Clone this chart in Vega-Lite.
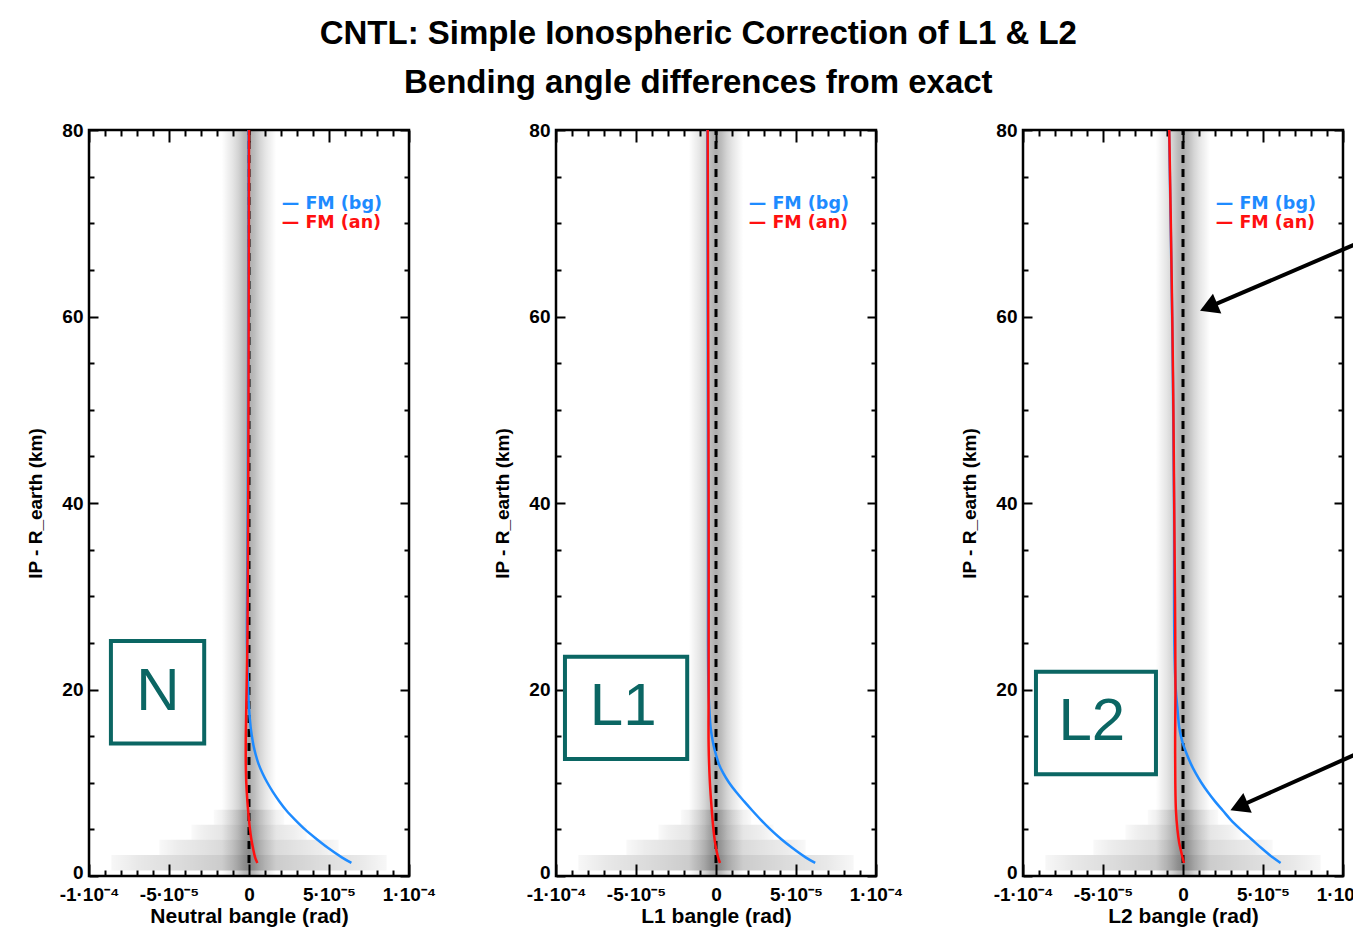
{
  "$schema": "https://vega.github.io/schema/vega-lite/v6.json",
  "background": "white",
  "padding": {"left": 25, "top": 17, "right": 0, "bottom": 0},
  "title": {"text": ["CNTL: Simple Ionospheric Correction of L1 & L2", "Bending angle differences from exact"], "fontSize": 33, "font": "Liberation Sans", "fontWeight": "bold", "lineHeight": 49, "anchor": "middle", "offset": 20, "color": "black"},
  "spacing": 147,
  "bounds": "flush",
  "config": {
    "font": "Liberation Sans",
    "view": {"stroke": "black", "strokeWidth": 2.5},
    "axis": {"labelFont": "Liberation Sans", "titleFont": "Liberation Sans", "labelFontWeight": "bold", "titleFontWeight": "bold", "labelFontSize": 19, "titleFontSize": 21, "labelColor": "black", "titleColor": "black", "tickColor": "black", "tickWidth": 2, "domain": false, "grid": false, "labelFlush": false, "labelOverlap": false},
    "line": {"interpolate": "catmull-rom"}
  },
  "data": {"values": [
    {"p":"N","k":"band","x":-1.7e-5,"x2":1.7e-5,"y":0,"y2":80},
    {"p":"N","k":"lband","x":-8.6e-5,"x2":8.6e-5,"y":0.6,"y2":2.25},
    {"p":"N","k":"lband","x":-5.6e-5,"x2":5.6e-5,"y":2.25,"y2":3.9},
    {"p":"N","k":"lband","x":-3.6e-5,"x2":3.6e-5,"y":3.9,"y2":5.5},
    {"p":"N","k":"lband","x":-2.2e-5,"x2":2.2e-5,"y":5.5,"y2":7.1},
    {"p":"L1","k":"band","x":-1.7e-5,"x2":1.7e-5,"y":0,"y2":80},
    {"p":"L1","k":"lband","x":-8.6e-5,"x2":8.6e-5,"y":0.6,"y2":2.25},
    {"p":"L1","k":"lband","x":-5.6e-5,"x2":5.6e-5,"y":2.25,"y2":3.9},
    {"p":"L1","k":"lband","x":-3.6e-5,"x2":3.6e-5,"y":3.9,"y2":5.5},
    {"p":"L1","k":"lband","x":-2.2e-5,"x2":2.2e-5,"y":5.5,"y2":7.1},
    {"p":"L2","k":"band","x":-1.7e-5,"x2":1.7e-5,"y":0,"y2":80},
    {"p":"L2","k":"lband","x":-8.6e-5,"x2":8.6e-5,"y":0.6,"y2":2.25},
    {"p":"L2","k":"lband","x":-5.6e-5,"x2":5.6e-5,"y":2.25,"y2":3.9},
    {"p":"L2","k":"lband","x":-3.6e-5,"x2":3.6e-5,"y":3.9,"y2":5.5},
    {"p":"L2","k":"lband","x":-2.2e-5,"x2":2.2e-5,"y":5.5,"y2":7.1},

    {"p":"N","k":"bg","y":1.4,"x":6.4e-5},{"p":"N","k":"bg","y":2,"x":5.8e-5},{"p":"N","k":"bg","y":3,"x":4.95e-5},{"p":"N","k":"bg","y":4,"x":4.2e-5},{"p":"N","k":"bg","y":5,"x":3.5e-5},{"p":"N","k":"bg","y":6,"x":2.9e-5},{"p":"N","k":"bg","y":7,"x":2.35e-5},{"p":"N","k":"bg","y":8,"x":1.9e-5},{"p":"N","k":"bg","y":9,"x":1.5e-5},{"p":"N","k":"bg","y":10,"x":1.15e-5},{"p":"N","k":"bg","y":11,"x":8.5e-6},{"p":"N","k":"bg","y":12,"x":6e-6},{"p":"N","k":"bg","y":13,"x":4.2e-6},{"p":"N","k":"bg","y":14,"x":2.8e-6},{"p":"N","k":"bg","y":15,"x":1.8e-6},{"p":"N","k":"bg","y":16,"x":1e-6},{"p":"N","k":"bg","y":18,"x":0},{"p":"N","k":"bg","y":20,"x":-5e-7},{"p":"N","k":"bg","y":25,"x":-1.3e-6},{"p":"N","k":"bg","y":30,"x":-1.2e-6},{"p":"N","k":"bg","y":40,"x":-8e-7},{"p":"N","k":"bg","y":60,"x":-5e-7},{"p":"N","k":"bg","y":80,"x":-3e-7},
    {"p":"N","k":"an","y":1.4,"x":5.2e-6},{"p":"N","k":"an","y":2,"x":3.8e-6},{"p":"N","k":"an","y":3,"x":2.5e-6},{"p":"N","k":"an","y":4,"x":1.4e-6},{"p":"N","k":"an","y":5,"x":6e-7},{"p":"N","k":"an","y":6,"x":0},{"p":"N","k":"an","y":8,"x":-1e-6},{"p":"N","k":"an","y":10,"x":-1.7e-6},{"p":"N","k":"an","y":12,"x":-2e-6},{"p":"N","k":"an","y":15,"x":-2e-6},{"p":"N","k":"an","y":20,"x":-1.5e-6},{"p":"N","k":"an","y":25,"x":-1e-6},{"p":"N","k":"an","y":30,"x":-8e-7},{"p":"N","k":"an","y":40,"x":-5e-7},{"p":"N","k":"an","y":60,"x":-2e-7},{"p":"N","k":"an","y":80,"x":0},

    {"p":"L1","k":"bg","y":1.4,"x":6.2e-5},{"p":"L1","k":"bg","y":2,"x":5.6e-5},{"p":"L1","k":"bg","y":3,"x":4.78e-5},{"p":"L1","k":"bg","y":4,"x":4.05e-5},{"p":"L1","k":"bg","y":5,"x":3.4e-5},{"p":"L1","k":"bg","y":6,"x":2.82e-5},{"p":"L1","k":"bg","y":7,"x":2.28e-5},{"p":"L1","k":"bg","y":8,"x":1.76e-5},{"p":"L1","k":"bg","y":9,"x":1.26e-5},{"p":"L1","k":"bg","y":10,"x":8.2e-6},{"p":"L1","k":"bg","y":11,"x":4.6e-6},{"p":"L1","k":"bg","y":12,"x":1.8e-6},{"p":"L1","k":"bg","y":13,"x":0},{"p":"L1","k":"bg","y":14,"x":-1.5e-6},{"p":"L1","k":"bg","y":15,"x":-2.6e-6},{"p":"L1","k":"bg","y":16,"x":-3.4e-6},{"p":"L1","k":"bg","y":18,"x":-4.2e-6},{"p":"L1","k":"bg","y":20,"x":-4.7e-6},{"p":"L1","k":"bg","y":25,"x":-5e-6},{"p":"L1","k":"bg","y":40,"x":-5e-6},{"p":"L1","k":"bg","y":60,"x":-5.2e-6},{"p":"L1","k":"bg","y":80,"x":-5.4e-6},
    {"p":"L1","k":"an","y":1.4,"x":2.5e-6},{"p":"L1","k":"an","y":2,"x":1.3e-6},{"p":"L1","k":"an","y":3,"x":0},{"p":"L1","k":"an","y":3.6,"x":-6e-7},{"p":"L1","k":"an","y":5,"x":-1.6e-6},{"p":"L1","k":"an","y":7,"x":-2.6e-6},{"p":"L1","k":"an","y":10,"x":-3.8e-6},{"p":"L1","k":"an","y":14,"x":-4.6e-6},{"p":"L1","k":"an","y":20,"x":-4.6e-6},{"p":"L1","k":"an","y":40,"x":-4.6e-6},{"p":"L1","k":"an","y":60,"x":-4.9e-6},{"p":"L1","k":"an","y":80,"x":-5.2e-6},

    {"p":"L2","k":"bg","y":1.4,"x":6.1e-5},{"p":"L2","k":"bg","y":2,"x":5.6e-5},{"p":"L2","k":"bg","y":3,"x":4.9e-5},{"p":"L2","k":"bg","y":4,"x":4.25e-5},{"p":"L2","k":"bg","y":5,"x":3.6e-5},{"p":"L2","k":"bg","y":6,"x":3.0e-5},{"p":"L2","k":"bg","y":7,"x":2.5e-5},{"p":"L2","k":"bg","y":8,"x":2.0e-5},{"p":"L2","k":"bg","y":9,"x":1.55e-5},{"p":"L2","k":"bg","y":10,"x":1.15e-5},{"p":"L2","k":"bg","y":11,"x":8e-6},{"p":"L2","k":"bg","y":12,"x":5e-6},{"p":"L2","k":"bg","y":13,"x":2.5e-6},{"p":"L2","k":"bg","y":14,"x":3e-7},{"p":"L2","k":"bg","y":15,"x":-1.3e-6},{"p":"L2","k":"bg","y":16,"x":-2.4e-6},{"p":"L2","k":"bg","y":18,"x":-3.5e-6},{"p":"L2","k":"bg","y":20,"x":-4.5e-6},{"p":"L2","k":"bg","y":25,"x":-5.4e-6},{"p":"L2","k":"bg","y":40,"x":-5.6e-6},{"p":"L2","k":"bg","y":60,"x":-6.8e-6},{"p":"L2","k":"bg","y":80,"x":-8.7e-6},
    {"p":"L2","k":"an","y":1.4,"x":6e-7},{"p":"L2","k":"an","y":2,"x":-3e-7},{"p":"L2","k":"an","y":2.5,"x":-1e-6},{"p":"L2","k":"an","y":3.6,"x":-2.4e-6},{"p":"L2","k":"an","y":5,"x":-3.5e-6},{"p":"L2","k":"an","y":7,"x":-4.4e-6},{"p":"L2","k":"an","y":10,"x":-4.8e-6},{"p":"L2","k":"an","y":15,"x":-4.9e-6},{"p":"L2","k":"an","y":20,"x":-4.7e-6},{"p":"L2","k":"an","y":30,"x":-5e-6},{"p":"L2","k":"an","y":40,"x":-5.5e-6},{"p":"L2","k":"an","y":50,"x":-6e-6},{"p":"L2","k":"an","y":60,"x":-6.7e-6},{"p":"L2","k":"an","y":70,"x":-7.6e-6},{"p":"L2","k":"an","y":80,"x":-8.6e-6},

    {"p":"N","k":"leg","s":"bg","x":2.05e-5,"y":72.1,"t":"— FM (bg)"},
    {"p":"N","k":"leg","s":"an","x":2.05e-5,"y":70.05,"t":"— FM (an)"},
    {"p":"L1","k":"leg","s":"bg","x":2.05e-5,"y":72.1,"t":"— FM (bg)"},
    {"p":"L1","k":"leg","s":"an","x":2.05e-5,"y":70.05,"t":"— FM (an)"},
    {"p":"L2","k":"leg","s":"bg","x":2.05e-5,"y":72.1,"t":"— FM (bg)"},
    {"p":"L2","k":"leg","s":"an","x":2.05e-5,"y":70.05,"t":"— FM (an)"},

    {"p":"N","k":"box","x":-8.63e-5,"x2":-2.8e-5,"y":14.2,"y2":25.2},
    {"p":"N","k":"lab","x":-5.7e-5,"y":19.7,"t":"N"},
    {"p":"L1","k":"box","x":-9.44e-5,"x2":-1.8e-5,"y":12.55,"y2":23.5},
    {"p":"L1","k":"lab","x":-5.8e-5,"y":18.1,"t":"L1"},
    {"p":"L2","k":"box","x":-9.19e-5,"x2":-1.69e-5,"y":10.9,"y2":21.9},
    {"p":"L2","k":"lab","x":-5.7e-5,"y":16.5,"t":"L2"},

    {"p":"L2","k":"arrow","x":1.07e-4,"y":67.7,"x2":1.6e-5,"y2":61.0},
    {"p":"L2","k":"arrow","x":1.07e-4,"y":12.98,"x2":3.5e-5,"y2":7.45},
    {"p":"L2","k":"head","x":1.6e-5,"y":61.0},
    {"p":"L2","k":"head","x":3.5e-5,"y":7.45}
  ]},
  "hconcat": [
    {
      "width": 320, "height": 746,
      "transform": [{"filter": "datum.p == 'N'"}],
      "resolve": {"axis": {"x": "independent", "y": "independent"}},
      "layer": [
        {"transform": [{"filter": "datum.k == 'band'"}],
         "mark": {"type": "rect", "fill": {"gradient": "linear", "x1": 0, "y1": 0, "x2": 1, "y2": 0, "stops": [{"offset": 0, "color": "rgba(0,0,0,0)"}, {"offset": 0.1, "color": "rgba(0,0,0,0.05)"}, {"offset": 0.2, "color": "rgba(0,0,0,0.1)"}, {"offset": 0.3, "color": "rgba(0,0,0,0.17)"}, {"offset": 0.4, "color": "rgba(0,0,0,0.26)"}, {"offset": 0.5, "color": "rgba(0,0,0,0.32)"}, {"offset": 0.6, "color": "rgba(0,0,0,0.26)"}, {"offset": 0.7, "color": "rgba(0,0,0,0.17)"}, {"offset": 0.8, "color": "rgba(0,0,0,0.1)"}, {"offset": 0.9, "color": "rgba(0,0,0,0.05)"}, {"offset": 1, "color": "rgba(0,0,0,0)"}]}},
         "encoding": {
           "x": {"field": "x", "type": "quantitative", "scale": {"domain": [-1e-4, 1e-4], "nice": false, "zero": false},
                 "axis": {"orient": "bottom", "title": "Neutral bangle (rad)", "values": [-1e-4,-9e-5,-8e-5,-7e-5,-6e-5,-5e-5,-4e-5,-3e-5,-2e-5,-1e-5,0,1e-5,2e-5,3e-5,4e-5,5e-5,6e-5,7e-5,8e-5,9e-5,1e-4],
                          "labelExpr": "abs(round(datum.value*1e5))%5 != 0 ? '' : datum.value < -7e-5 ? '-1·10⁻⁴' : datum.value < -2e-5 ? '-5·10⁻⁵' : datum.value < 2e-5 ? '0' : datum.value < 7e-5 ? '5·10⁻⁵' : '1·10⁻⁴'",
                          "tickSize": {"condition": {"test": "abs(round(datum.value*1e5))%5 == 0", "value": -12}, "value": -6},
                          "labelPadding": 21, "titlePadding": -5}},
           "x2": {"field": "x2"},
           "y": {"field": "y", "type": "quantitative", "scale": {"domain": [0, 80], "nice": false, "zero": false},
                 "axis": {"orient": "left", "title": "IP - R_earth (km)", "titleFontSize": 19, "labelFontSize": 19, "values": [0,5,10,15,20,25,30,35,40,45,50,55,60,65,70,75,80],
                          "labelExpr": "datum.value % 20 == 0 ? datum.label : ''",
                          "labelOffset": {"condition": {"test": "datum.value == 0", "value": -4}, "value": 0},
                          "tickSize": {"condition": {"test": "datum.value % 20 == 0", "value": -9}, "value": -5},
                          "labelPadding": 15, "titlePadding": 16}},
           "y2": {"field": "y2"}
         }},
        {"transform": [{"filter": "datum.k == 'lband'"}],
         "mark": {"type": "rect", "fill": {"gradient": "linear", "x1": 0, "y1": 0, "x2": 1, "y2": 0, "stops": [{"offset": 0, "color": "rgba(0,0,0,0.03)"}, {"offset": 0.1, "color": "rgba(0,0,0,0.09)"}, {"offset": 0.25, "color": "rgba(0,0,0,0.14)"}, {"offset": 0.4, "color": "rgba(0,0,0,0.2)"}, {"offset": 0.5, "color": "rgba(0,0,0,0.25)"}, {"offset": 0.6, "color": "rgba(0,0,0,0.2)"}, {"offset": 0.75, "color": "rgba(0,0,0,0.14)"}, {"offset": 0.9, "color": "rgba(0,0,0,0.09)"}, {"offset": 1, "color": "rgba(0,0,0,0.03)"}]}},
         "encoding": {
           "x": {"field": "x", "type": "quantitative", "scale": {"domain": [-1e-4, 1e-4], "nice": false, "zero": false}, "axis": null},
           "x2": {"field": "x2"},
           "y": {"field": "y", "type": "quantitative", "scale": {"domain": [0, 80], "nice": false, "zero": false}, "axis": null},
           "y2": {"field": "y2"},
           "opacity": {"field": "x2", "type": "quantitative", "scale": {"domain": [2.2e-5, 8.6e-5], "range": [0.6, 1]}, "legend": null}
         }},
        {"transform": [{"filter": "datum.k == 'band'"}],
         "mark": {"type": "rule", "strokeDash": [8, 6], "strokeWidth": 3, "color": "black"},
         "encoding": {
           "x": {"datum": 0, "type": "quantitative", "scale": {"domain": [-1e-4, 1e-4], "nice": false, "zero": false},
                 "axis": {"orient": "top", "title": null, "labels": false, "values": [-1e-4,-9e-5,-8e-5,-7e-5,-6e-5,-5e-5,-4e-5,-3e-5,-2e-5,-1e-5,0,1e-5,2e-5,3e-5,4e-5,5e-5,6e-5,7e-5,8e-5,9e-5,1e-4],
                          "tickSize": {"condition": {"test": "abs(round(datum.value*1e5))%5 == 0", "value": -12}, "value": -6}}},
           "y": {"datum": 1.4, "type": "quantitative", "scale": {"domain": [0, 80], "nice": false, "zero": false},
                 "axis": {"orient": "right", "title": null, "labels": false, "values": [0,5,10,15,20,25,30,35,40,45,50,55,60,65,70,75,80],
                          "tickSize": {"condition": {"test": "datum.value % 20 == 0", "value": -9}, "value": -5}}},
           "y2": {"datum": 80}
         }},
        {"transform": [{"filter": "datum.k == 'bg'"}],
         "mark": {"type": "line", "color": "#1e8bff", "strokeWidth": 2.5},
         "encoding": {"x": {"field": "x", "type": "quantitative", "scale": {"domain": [-1e-4, 1e-4], "nice": false, "zero": false}, "axis": null},
                      "y": {"field": "y", "type": "quantitative", "scale": {"domain": [0, 80], "nice": false, "zero": false}, "axis": null},
                      "order": {"field": "y", "type": "quantitative"}}},
        {"transform": [{"filter": "datum.k == 'an'"}],
         "mark": {"type": "line", "color": "#ff1010", "strokeWidth": 2.5},
         "encoding": {"x": {"field": "x", "type": "quantitative", "scale": {"domain": [-1e-4, 1e-4], "nice": false, "zero": false}, "axis": null},
                      "y": {"field": "y", "type": "quantitative", "scale": {"domain": [0, 80], "nice": false, "zero": false}, "axis": null},
                      "order": {"field": "y", "type": "quantitative"}}},
        {"transform": [{"filter": "datum.k == 'leg'"}],
         "mark": {"type": "text", "align": "left", "baseline": "middle", "fontSize": 17.5, "fontWeight": "bold", "font": "DejaVu Sans"},
         "encoding": {"x": {"field": "x", "type": "quantitative", "scale": {"domain": [-1e-4, 1e-4], "nice": false, "zero": false}, "axis": null},
                      "y": {"field": "y", "type": "quantitative", "scale": {"domain": [0, 80], "nice": false, "zero": false}, "axis": null},
                      "text": {"field": "t"},
                      "color": {"field": "s", "type": "nominal", "scale": {"domain": ["bg", "an"], "range": ["#1e8bff", "#ff1010"]}, "legend": null}}},
        {"transform": [{"filter": "datum.k == 'box'"}],
         "mark": {"type": "rect", "fillOpacity": 0, "fill": "white", "stroke": "#0b6663", "strokeWidth": 4},
         "encoding": {"x": {"field": "x", "type": "quantitative", "scale": {"domain": [-1e-4, 1e-4], "nice": false, "zero": false}, "axis": null},
                      "x2": {"field": "x2"},
                      "y": {"field": "y", "type": "quantitative", "scale": {"domain": [0, 80], "nice": false, "zero": false}, "axis": null},
                      "y2": {"field": "y2"}}},
        {"transform": [{"filter": "datum.k == 'lab'"}],
         "mark": {"type": "text", "align": "center", "baseline": "middle", "fontSize": 60, "font": "Liberation Sans", "color": "#0b6663"},
         "encoding": {"x": {"field": "x", "type": "quantitative", "scale": {"domain": [-1e-4, 1e-4], "nice": false, "zero": false}, "axis": null},
                      "y": {"field": "y", "type": "quantitative", "scale": {"domain": [0, 80], "nice": false, "zero": false}, "axis": null},
                      "text": {"field": "t"}}}
      ]
    },
    {
      "width": 320, "height": 746,
      "transform": [{"filter": "datum.p == 'L1'"}],
      "resolve": {"axis": {"x": "independent", "y": "independent"}},
      "layer": [
        {"transform": [{"filter": "datum.k == 'band'"}],
         "mark": {"type": "rect", "fill": {"gradient": "linear", "x1": 0, "y1": 0, "x2": 1, "y2": 0, "stops": [{"offset": 0, "color": "rgba(0,0,0,0)"}, {"offset": 0.1, "color": "rgba(0,0,0,0.05)"}, {"offset": 0.2, "color": "rgba(0,0,0,0.1)"}, {"offset": 0.3, "color": "rgba(0,0,0,0.17)"}, {"offset": 0.4, "color": "rgba(0,0,0,0.26)"}, {"offset": 0.5, "color": "rgba(0,0,0,0.32)"}, {"offset": 0.6, "color": "rgba(0,0,0,0.26)"}, {"offset": 0.7, "color": "rgba(0,0,0,0.17)"}, {"offset": 0.8, "color": "rgba(0,0,0,0.1)"}, {"offset": 0.9, "color": "rgba(0,0,0,0.05)"}, {"offset": 1, "color": "rgba(0,0,0,0)"}]}},
         "encoding": {
           "x": {"field": "x", "type": "quantitative", "scale": {"domain": [-1e-4, 1e-4], "nice": false, "zero": false},
                 "axis": {"orient": "bottom", "title": "L1 bangle (rad)", "values": [-1e-4,-9e-5,-8e-5,-7e-5,-6e-5,-5e-5,-4e-5,-3e-5,-2e-5,-1e-5,0,1e-5,2e-5,3e-5,4e-5,5e-5,6e-5,7e-5,8e-5,9e-5,1e-4],
                          "labelExpr": "abs(round(datum.value*1e5))%5 != 0 ? '' : datum.value < -7e-5 ? '-1·10⁻⁴' : datum.value < -2e-5 ? '-5·10⁻⁵' : datum.value < 2e-5 ? '0' : datum.value < 7e-5 ? '5·10⁻⁵' : '1·10⁻⁴'",
                          "tickSize": {"condition": {"test": "abs(round(datum.value*1e5))%5 == 0", "value": -12}, "value": -6},
                          "labelPadding": 21, "titlePadding": -5}},
           "x2": {"field": "x2"},
           "y": {"field": "y", "type": "quantitative", "scale": {"domain": [0, 80], "nice": false, "zero": false},
                 "axis": {"orient": "left", "title": "IP - R_earth (km)", "titleFontSize": 19, "labelFontSize": 19, "values": [0,5,10,15,20,25,30,35,40,45,50,55,60,65,70,75,80],
                          "labelExpr": "datum.value % 20 == 0 ? datum.label : ''",
                          "labelOffset": {"condition": {"test": "datum.value == 0", "value": -4}, "value": 0},
                          "tickSize": {"condition": {"test": "datum.value % 20 == 0", "value": -9}, "value": -5},
                          "labelPadding": 15, "titlePadding": 16}},
           "y2": {"field": "y2"}
         }},
        {"transform": [{"filter": "datum.k == 'lband'"}],
         "mark": {"type": "rect", "fill": {"gradient": "linear", "x1": 0, "y1": 0, "x2": 1, "y2": 0, "stops": [{"offset": 0, "color": "rgba(0,0,0,0.03)"}, {"offset": 0.1, "color": "rgba(0,0,0,0.09)"}, {"offset": 0.25, "color": "rgba(0,0,0,0.14)"}, {"offset": 0.4, "color": "rgba(0,0,0,0.2)"}, {"offset": 0.5, "color": "rgba(0,0,0,0.25)"}, {"offset": 0.6, "color": "rgba(0,0,0,0.2)"}, {"offset": 0.75, "color": "rgba(0,0,0,0.14)"}, {"offset": 0.9, "color": "rgba(0,0,0,0.09)"}, {"offset": 1, "color": "rgba(0,0,0,0.03)"}]}},
         "encoding": {
           "x": {"field": "x", "type": "quantitative", "scale": {"domain": [-1e-4, 1e-4], "nice": false, "zero": false}, "axis": null},
           "x2": {"field": "x2"},
           "y": {"field": "y", "type": "quantitative", "scale": {"domain": [0, 80], "nice": false, "zero": false}, "axis": null},
           "y2": {"field": "y2"},
           "opacity": {"field": "x2", "type": "quantitative", "scale": {"domain": [2.2e-5, 8.6e-5], "range": [0.6, 1]}, "legend": null}
         }},
        {"transform": [{"filter": "datum.k == 'band'"}],
         "mark": {"type": "rule", "strokeDash": [8, 6], "strokeWidth": 3, "color": "black"},
         "encoding": {
           "x": {"datum": 0, "type": "quantitative", "scale": {"domain": [-1e-4, 1e-4], "nice": false, "zero": false},
                 "axis": {"orient": "top", "title": null, "labels": false, "values": [-1e-4,-9e-5,-8e-5,-7e-5,-6e-5,-5e-5,-4e-5,-3e-5,-2e-5,-1e-5,0,1e-5,2e-5,3e-5,4e-5,5e-5,6e-5,7e-5,8e-5,9e-5,1e-4],
                          "tickSize": {"condition": {"test": "abs(round(datum.value*1e5))%5 == 0", "value": -12}, "value": -6}}},
           "y": {"datum": 1.4, "type": "quantitative", "scale": {"domain": [0, 80], "nice": false, "zero": false},
                 "axis": {"orient": "right", "title": null, "labels": false, "values": [0,5,10,15,20,25,30,35,40,45,50,55,60,65,70,75,80],
                          "tickSize": {"condition": {"test": "datum.value % 20 == 0", "value": -9}, "value": -5}}},
           "y2": {"datum": 80}
         }},
        {"transform": [{"filter": "datum.k == 'bg'"}],
         "mark": {"type": "line", "color": "#1e8bff", "strokeWidth": 2.5},
         "encoding": {"x": {"field": "x", "type": "quantitative", "scale": {"domain": [-1e-4, 1e-4], "nice": false, "zero": false}, "axis": null},
                      "y": {"field": "y", "type": "quantitative", "scale": {"domain": [0, 80], "nice": false, "zero": false}, "axis": null},
                      "order": {"field": "y", "type": "quantitative"}}},
        {"transform": [{"filter": "datum.k == 'an'"}],
         "mark": {"type": "line", "color": "#ff1010", "strokeWidth": 2.5},
         "encoding": {"x": {"field": "x", "type": "quantitative", "scale": {"domain": [-1e-4, 1e-4], "nice": false, "zero": false}, "axis": null},
                      "y": {"field": "y", "type": "quantitative", "scale": {"domain": [0, 80], "nice": false, "zero": false}, "axis": null},
                      "order": {"field": "y", "type": "quantitative"}}},
        {"transform": [{"filter": "datum.k == 'leg'"}],
         "mark": {"type": "text", "align": "left", "baseline": "middle", "fontSize": 17.5, "fontWeight": "bold", "font": "DejaVu Sans"},
         "encoding": {"x": {"field": "x", "type": "quantitative", "scale": {"domain": [-1e-4, 1e-4], "nice": false, "zero": false}, "axis": null},
                      "y": {"field": "y", "type": "quantitative", "scale": {"domain": [0, 80], "nice": false, "zero": false}, "axis": null},
                      "text": {"field": "t"},
                      "color": {"field": "s", "type": "nominal", "scale": {"domain": ["bg", "an"], "range": ["#1e8bff", "#ff1010"]}, "legend": null}}},
        {"transform": [{"filter": "datum.k == 'box'"}],
         "mark": {"type": "rect", "fillOpacity": 0, "fill": "white", "stroke": "#0b6663", "strokeWidth": 4},
         "encoding": {"x": {"field": "x", "type": "quantitative", "scale": {"domain": [-1e-4, 1e-4], "nice": false, "zero": false}, "axis": null},
                      "x2": {"field": "x2"},
                      "y": {"field": "y", "type": "quantitative", "scale": {"domain": [0, 80], "nice": false, "zero": false}, "axis": null},
                      "y2": {"field": "y2"}}},
        {"transform": [{"filter": "datum.k == 'lab'"}],
         "mark": {"type": "text", "align": "center", "baseline": "middle", "fontSize": 60, "font": "Liberation Sans", "color": "#0b6663"},
         "encoding": {"x": {"field": "x", "type": "quantitative", "scale": {"domain": [-1e-4, 1e-4], "nice": false, "zero": false}, "axis": null},
                      "y": {"field": "y", "type": "quantitative", "scale": {"domain": [0, 80], "nice": false, "zero": false}, "axis": null},
                      "text": {"field": "t"}}}
      ]
    },
    {
      "width": 320, "height": 746,
      "transform": [{"filter": "datum.p == 'L2'"}],
      "resolve": {"axis": {"x": "independent", "y": "independent"}},
      "layer": [
        {"transform": [{"filter": "datum.k == 'band'"}],
         "mark": {"type": "rect", "fill": {"gradient": "linear", "x1": 0, "y1": 0, "x2": 1, "y2": 0, "stops": [{"offset": 0, "color": "rgba(0,0,0,0)"}, {"offset": 0.1, "color": "rgba(0,0,0,0.05)"}, {"offset": 0.2, "color": "rgba(0,0,0,0.1)"}, {"offset": 0.3, "color": "rgba(0,0,0,0.17)"}, {"offset": 0.4, "color": "rgba(0,0,0,0.26)"}, {"offset": 0.5, "color": "rgba(0,0,0,0.32)"}, {"offset": 0.6, "color": "rgba(0,0,0,0.26)"}, {"offset": 0.7, "color": "rgba(0,0,0,0.17)"}, {"offset": 0.8, "color": "rgba(0,0,0,0.1)"}, {"offset": 0.9, "color": "rgba(0,0,0,0.05)"}, {"offset": 1, "color": "rgba(0,0,0,0)"}]}},
         "encoding": {
           "x": {"field": "x", "type": "quantitative", "scale": {"domain": [-1e-4, 1e-4], "nice": false, "zero": false},
                 "axis": {"orient": "bottom", "title": "L2 bangle (rad)", "values": [-1e-4,-9e-5,-8e-5,-7e-5,-6e-5,-5e-5,-4e-5,-3e-5,-2e-5,-1e-5,0,1e-5,2e-5,3e-5,4e-5,5e-5,6e-5,7e-5,8e-5,9e-5,1e-4],
                          "labelExpr": "abs(round(datum.value*1e5))%5 != 0 ? '' : datum.value < -7e-5 ? '-1·10⁻⁴' : datum.value < -2e-5 ? '-5·10⁻⁵' : datum.value < 2e-5 ? '0' : datum.value < 7e-5 ? '5·10⁻⁵' : '1·10⁻⁴'",
                          "tickSize": {"condition": {"test": "abs(round(datum.value*1e5))%5 == 0", "value": -12}, "value": -6},
                          "labelPadding": 21, "titlePadding": -5}},
           "x2": {"field": "x2"},
           "y": {"field": "y", "type": "quantitative", "scale": {"domain": [0, 80], "nice": false, "zero": false},
                 "axis": {"orient": "left", "title": "IP - R_earth (km)", "titleFontSize": 19, "labelFontSize": 19, "values": [0,5,10,15,20,25,30,35,40,45,50,55,60,65,70,75,80],
                          "labelExpr": "datum.value % 20 == 0 ? datum.label : ''",
                          "labelOffset": {"condition": {"test": "datum.value == 0", "value": -4}, "value": 0},
                          "tickSize": {"condition": {"test": "datum.value % 20 == 0", "value": -9}, "value": -5},
                          "labelPadding": 15, "titlePadding": 16}},
           "y2": {"field": "y2"}
         }},
        {"transform": [{"filter": "datum.k == 'lband'"}],
         "mark": {"type": "rect", "fill": {"gradient": "linear", "x1": 0, "y1": 0, "x2": 1, "y2": 0, "stops": [{"offset": 0, "color": "rgba(0,0,0,0.03)"}, {"offset": 0.1, "color": "rgba(0,0,0,0.09)"}, {"offset": 0.25, "color": "rgba(0,0,0,0.14)"}, {"offset": 0.4, "color": "rgba(0,0,0,0.2)"}, {"offset": 0.5, "color": "rgba(0,0,0,0.25)"}, {"offset": 0.6, "color": "rgba(0,0,0,0.2)"}, {"offset": 0.75, "color": "rgba(0,0,0,0.14)"}, {"offset": 0.9, "color": "rgba(0,0,0,0.09)"}, {"offset": 1, "color": "rgba(0,0,0,0.03)"}]}},
         "encoding": {
           "x": {"field": "x", "type": "quantitative", "scale": {"domain": [-1e-4, 1e-4], "nice": false, "zero": false}, "axis": null},
           "x2": {"field": "x2"},
           "y": {"field": "y", "type": "quantitative", "scale": {"domain": [0, 80], "nice": false, "zero": false}, "axis": null},
           "y2": {"field": "y2"},
           "opacity": {"field": "x2", "type": "quantitative", "scale": {"domain": [2.2e-5, 8.6e-5], "range": [0.6, 1]}, "legend": null}
         }},
        {"transform": [{"filter": "datum.k == 'band'"}],
         "mark": {"type": "rule", "strokeDash": [8, 6], "strokeWidth": 3, "color": "black"},
         "encoding": {
           "x": {"datum": 0, "type": "quantitative", "scale": {"domain": [-1e-4, 1e-4], "nice": false, "zero": false},
                 "axis": {"orient": "top", "title": null, "labels": false, "values": [-1e-4,-9e-5,-8e-5,-7e-5,-6e-5,-5e-5,-4e-5,-3e-5,-2e-5,-1e-5,0,1e-5,2e-5,3e-5,4e-5,5e-5,6e-5,7e-5,8e-5,9e-5,1e-4],
                          "tickSize": {"condition": {"test": "abs(round(datum.value*1e5))%5 == 0", "value": -12}, "value": -6}}},
           "y": {"datum": 1.4, "type": "quantitative", "scale": {"domain": [0, 80], "nice": false, "zero": false},
                 "axis": {"orient": "right", "title": null, "labels": false, "values": [0,5,10,15,20,25,30,35,40,45,50,55,60,65,70,75,80],
                          "tickSize": {"condition": {"test": "datum.value % 20 == 0", "value": -9}, "value": -5}}},
           "y2": {"datum": 80}
         }},
        {"transform": [{"filter": "datum.k == 'bg'"}],
         "mark": {"type": "line", "color": "#1e8bff", "strokeWidth": 2.5},
         "encoding": {"x": {"field": "x", "type": "quantitative", "scale": {"domain": [-1e-4, 1e-4], "nice": false, "zero": false}, "axis": null},
                      "y": {"field": "y", "type": "quantitative", "scale": {"domain": [0, 80], "nice": false, "zero": false}, "axis": null},
                      "order": {"field": "y", "type": "quantitative"}}},
        {"transform": [{"filter": "datum.k == 'an'"}],
         "mark": {"type": "line", "color": "#ff1010", "strokeWidth": 2.5},
         "encoding": {"x": {"field": "x", "type": "quantitative", "scale": {"domain": [-1e-4, 1e-4], "nice": false, "zero": false}, "axis": null},
                      "y": {"field": "y", "type": "quantitative", "scale": {"domain": [0, 80], "nice": false, "zero": false}, "axis": null},
                      "order": {"field": "y", "type": "quantitative"}}},
        {"transform": [{"filter": "datum.k == 'leg'"}],
         "mark": {"type": "text", "align": "left", "baseline": "middle", "fontSize": 17.5, "fontWeight": "bold", "font": "DejaVu Sans"},
         "encoding": {"x": {"field": "x", "type": "quantitative", "scale": {"domain": [-1e-4, 1e-4], "nice": false, "zero": false}, "axis": null},
                      "y": {"field": "y", "type": "quantitative", "scale": {"domain": [0, 80], "nice": false, "zero": false}, "axis": null},
                      "text": {"field": "t"},
                      "color": {"field": "s", "type": "nominal", "scale": {"domain": ["bg", "an"], "range": ["#1e8bff", "#ff1010"]}, "legend": null}}},
        {"transform": [{"filter": "datum.k == 'box'"}],
         "mark": {"type": "rect", "fillOpacity": 0, "fill": "white", "stroke": "#0b6663", "strokeWidth": 4},
         "encoding": {"x": {"field": "x", "type": "quantitative", "scale": {"domain": [-1e-4, 1e-4], "nice": false, "zero": false}, "axis": null},
                      "x2": {"field": "x2"},
                      "y": {"field": "y", "type": "quantitative", "scale": {"domain": [0, 80], "nice": false, "zero": false}, "axis": null},
                      "y2": {"field": "y2"}}},
        {"transform": [{"filter": "datum.k == 'lab'"}],
         "mark": {"type": "text", "align": "center", "baseline": "middle", "fontSize": 60, "font": "Liberation Sans", "color": "#0b6663"},
         "encoding": {"x": {"field": "x", "type": "quantitative", "scale": {"domain": [-1e-4, 1e-4], "nice": false, "zero": false}, "axis": null},
                      "y": {"field": "y", "type": "quantitative", "scale": {"domain": [0, 80], "nice": false, "zero": false}, "axis": null},
                      "text": {"field": "t"}}},
        {"transform": [{"filter": "datum.k == 'arrow'"}],
         "mark": {"type": "rule", "strokeWidth": 4, "color": "black"},
         "encoding": {"x": {"field": "x", "type": "quantitative", "scale": {"domain": [-1e-4, 1e-4], "nice": false, "zero": false}, "axis": null},
                      "x2": {"field": "x2"},
                      "y": {"field": "y", "type": "quantitative", "scale": {"domain": [0, 80], "nice": false, "zero": false}, "axis": null},
                      "y2": {"field": "y2"}}},
        {"transform": [{"filter": "datum.k == 'head'"}],
         "mark": {"type": "point", "shape": "triangle-right", "angle": 157, "filled": true, "color": "black", "opacity": 1, "size": 460},
         "encoding": {"x": {"field": "x", "type": "quantitative", "scale": {"domain": [-1e-4, 1e-4], "nice": false, "zero": false}, "axis": null},
                      "y": {"field": "y", "type": "quantitative", "scale": {"domain": [0, 80], "nice": false, "zero": false}, "axis": null}}}
      ]
    }
  ]
}
